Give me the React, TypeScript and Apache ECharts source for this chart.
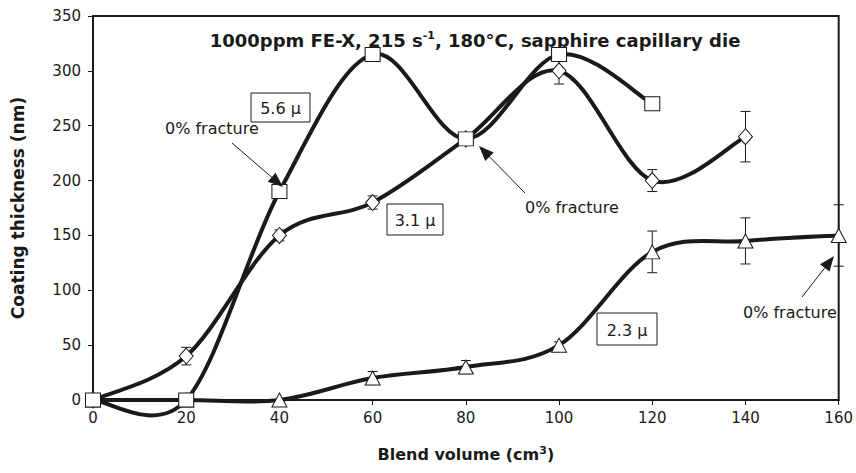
import React, { useEffect, useRef } from "react";
import * as echarts from "echarts";

const squareX = [0, 20, 40, 60, 80, 100, 120];
const squareY = [0, 0, 190, 315, 238, 315, 270];
const diamondX = [0, 20, 40, 60, 80, 100, 120, 140];
const diamondY = [0, 40, 150, 180, 238, 300, 200, 240];
const diamondErr = [0, 8, 5, 6, 0, 12, 10, 23];
const triangleX = [0, 20, 40, 60, 80, 100, 120, 140, 160];
const triangleY = [0, 0, 0, 20, 30, 50, 135, 145, 150];
const triangleErr = [0, 0, 0, 6, 6, 3, 19, 21, 28];

const FONT = "DejaVu Sans, Verdana, sans-serif";
const INK = "#1a1a1a";

function pairs(xs: number[], ys: number[]) {
  return xs.map((x, i) => [x, ys[i]]);
}
function triples(xs: number[], ys: number[], es: number[]) {
  return xs.map((x, i) => [x, ys[i], es[i]]);
}

function errorRender(params: any, api: any) {
  const x = api.value(0);
  const y = api.value(1);
  const e = api.value(2);
  if (!e) return null;
  const top = api.coord([x, y + e]);
  const bot = api.coord([x, y - e]);
  const w = 5;
  const st = { stroke: INK, lineWidth: 1 };
  return {
    type: "group",
    children: [
      { type: "line", shape: { x1: top[0], y1: top[1], x2: bot[0], y2: bot[1] }, style: st },
      { type: "line", shape: { x1: top[0] - w, y1: top[1], x2: top[0] + w, y2: top[1] }, style: st },
      { type: "line", shape: { x1: bot[0] - w, y1: bot[1], x2: bot[0] + w, y2: bot[1] }, style: st },
    ],
  };
}

// Smooth (Catmull-Rom style Bezier) curve, like a spreadsheet's smoothed line
function smoothRender(xs: number[], ys: number[]) {
  return (params: any, api: any) => {
    const i = params.dataIndex;
    const n = xs.length;
    if (i >= n - 1) return null;
    const p = (k: number) => api.coord([xs[Math.max(0, Math.min(n - 1, k))], ys[Math.max(0, Math.min(n - 1, k))]]);
    const p0 = p(i - 1), p1 = p(i), p2 = p(i + 1), p3 = p(i + 2);
    return {
      type: "bezierCurve",
      shape: {
        x1: p1[0],
        y1: p1[1],
        x2: p2[0],
        y2: p2[1],
        cpx1: p1[0] + (p2[0] - p0[0]) / 6,
        cpy1: p1[1] + (p2[1] - p0[1]) / 6,
        cpx2: p2[0] - (p3[0] - p1[0]) / 6,
        cpy2: p2[1] - (p3[1] - p1[1]) / 6,
      },
      style: { stroke: INK, lineWidth: 4, fill: null, lineCap: "round", lineJoin: "round" },
    };
  };
}

function arrow(x1: number, y1: number, tx: number, ty: number) {
  const dx = tx - x1, dy = ty - y1;
  const len = Math.sqrt(dx * dx + dy * dy);
  const ux = dx / len, uy = dy / len;
  const hl = 15, hw = 6;
  const bx = tx - ux * hl, by = ty - uy * hl;
  const px = -uy, py = ux;
  return [
    { type: "line", shape: { x1, y1, x2: bx + ux * 2, y2: by + uy * 2 }, style: { stroke: INK, lineWidth: 1 }, z: 100 },
    {
      type: "polygon",
      shape: { points: [[tx, ty], [bx + px * hw, by + py * hw], [bx - px * hw, by - py * hw]] },
      style: { fill: INK },
      z: 100,
    },
  ];
}

function label(text: string, x: number, y: number) {
  return {
    type: "text",
    z: 100,
    style: { text, x, y, font: `16px ${FONT}`, fill: INK, textAlign: "left", textVerticalAlign: "middle" },
  };
}

function boxLabel(text: string, x: number, y: number, w: number, h: number) {
  return [
    { type: "rect", z: 100, shape: { x, y, width: w, height: h }, style: { fill: "#fff", stroke: INK, lineWidth: 1 } },
    {
      type: "text",
      z: 101,
      style: { text, x: x + w / 2, y: y + h / 2 + 1, font: `16px ${FONT}`, fill: INK, textAlign: "center", textVerticalAlign: "middle" },
    },
  ];
}

export default function App() {
  const ref = useRef<HTMLDivElement>(null);
  useEffect(() => {
    if (!ref.current) return;
    const chart = echarts.init(ref.current, null, { renderer: "svg" });
    const curve = (name: string, xs: number[], ys: number[]) => ({
      type: "custom",
      name: name + "-curve",
      renderItem: smoothRender(xs, ys),
      data: pairs(xs, ys),
      clip: false,
      z: 2,
    });
    const markers = (name: string, xs: number[], ys: number[], symbol: string, size: number[], z: number) => ({
      type: "scatter",
      name,
      data: pairs(xs, ys),
      symbol,
      symbolSize: size,
      clip: false,
      itemStyle: { color: "#fff", borderColor: INK, borderWidth: 1, opacity: 1 },
      z,
    });
    chart.setOption({
      animation: false,
      backgroundColor: "#fff",
      title: {
        text: "{a|1000ppm FE-X, 215 s}{sup|-1}{a|, 180°C, sapphire capillary die}",
        left: 470,
        top: 25,
        textAlign: "center",
        textStyle: {
          rich: {
            a: { fontFamily: FONT, fontWeight: "bold", fontSize: 18, color: INK },
            sup: { fontFamily: FONT, fontWeight: "bold", fontSize: 11, color: INK, verticalAlign: "top", padding: [0, 0, 9, 0] },
          },
        },
      },
      grid: {
        left: 93,
        right: 15,
        top: 16,
        bottom: 73,
        show: true,
        borderColor: INK,
        borderWidth: 2,
      },
      xAxis: {
        type: "value",
        min: 0,
        max: 160,
        interval: 20,
        splitLine: { show: false },
        axisLine: { lineStyle: { color: INK, width: 2 } },
        axisTick: { inside: false, length: 5, lineStyle: { color: INK, width: 1 } },
        axisLabel: { color: INK, fontFamily: FONT, fontSize: 15, margin: 10 },
        name: "{a|Blend volume (cm}{sup|3}{a|)}",
        nameLocation: "middle",
        nameGap: 45,
        nameTextStyle: {
          rich: {
            a: { fontFamily: FONT, fontWeight: "bold", fontSize: 16, color: INK },
            sup: { fontFamily: FONT, fontWeight: "bold", fontSize: 11, color: INK, verticalAlign: "top", padding: [0, 0, 8, 0] },
          },
        },
      },
      yAxis: {
        type: "value",
        min: 0,
        max: 350,
        interval: 50,
        splitLine: { show: false },
        axisLine: { show: true, lineStyle: { color: INK, width: 2 } },
        axisTick: { show: true, inside: false, length: 5, lineStyle: { color: INK, width: 1 } },
        axisLabel: { color: INK, fontFamily: FONT, fontSize: 15, margin: 12 },
        name: "Coating thickness (nm)",
        nameLocation: "middle",
        nameGap: 67,
        nameTextStyle: { fontFamily: FONT, fontWeight: "bold", fontSize: 17, color: INK },
      },
      series: [
        { type: "custom", renderItem: errorRender, data: triples(diamondX, diamondY, diamondErr), z: 1, clip: false },
        { type: "custom", renderItem: errorRender, data: triples(triangleX, triangleY, triangleErr), z: 1, clip: false },
        curve("2.3", triangleX, triangleY),
        curve("3.1", diamondX, diamondY),
        curve("5.6", squareX, squareY),
        markers("2.3 μ", triangleX, triangleY, "triangle", [15, 14], 5),
        markers("3.1 μ", diamondX, diamondY, "diamond", [14, 16], 6),
        markers("5.6 μ", squareX, squareY, "rect", [15, 14], 7),
      ],
      graphic: [
        ...boxLabel("5.6 μ", 251, 93, 59, 29),
        ...boxLabel("3.1 μ", 387, 204, 56, 31),
        ...boxLabel("2.3 μ", 597, 313, 60, 32),
        label("0% fracture", 165, 128),
        label("0% fracture", 525, 207),
        label("0% fracture", 743, 312),
        ...arrow(232, 143, 283, 187),
        ...arrow(525, 193, 479, 146),
        ...arrow(802, 297, 834, 256),
      ],
    });
    return () => chart.dispose();
  }, []);
  return (
    <div
      ref={ref}
      style={{ position: "fixed", left: 0, top: 0, width: 856, height: 473, background: "#fff" }}
    />
  );
}
